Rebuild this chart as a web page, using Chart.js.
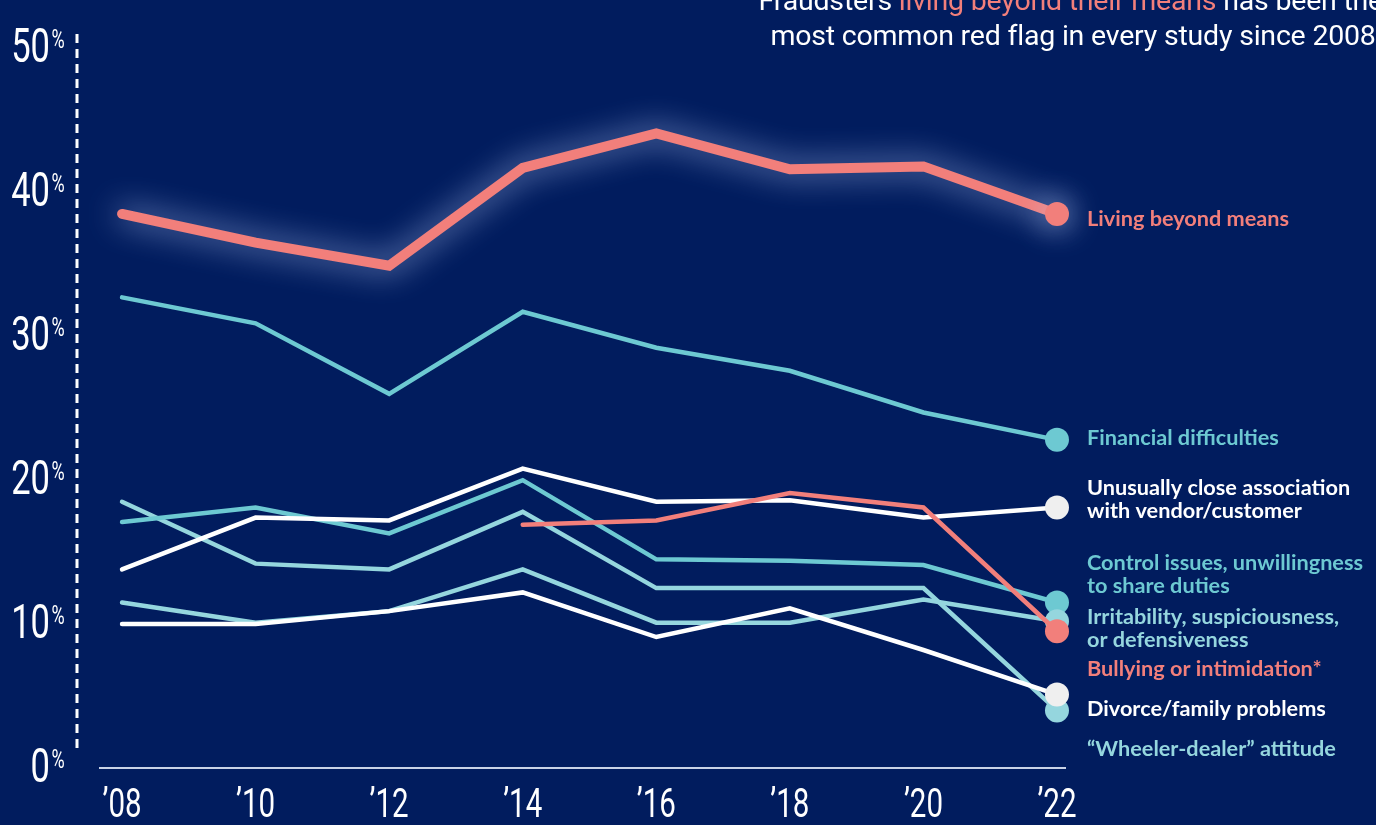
<!DOCTYPE html>
<html lang="en">
<head>
    <meta charset="UTF-8">
    <title>Red flags of fraud, 2008-2022</title>
    <script src="https://cdn.jsdelivr.net/npm/chart.js"></script>
    <style>
        html, body {
            margin: 0;
            padding: 0;
            background: #011c5e;
            overflow: hidden;
        }
        .wrap {
            position: relative;
            width: 1376px;
            height: 825px;
        }
        #headline {
            position: absolute;
            right: -7px;
            top: -17px;
            text-align: right;
            color: #fff;
            font-family: Roboto, "Noto Sans", sans-serif;
            font-size: 28.5px;
            line-height: 35px;
            letter-spacing: -0.2px;
            white-space: nowrap;
        }
        #headline .hl {
            color: #f27f7b;
        }
    </style>
</head>
<body>
    <div class="wrap">
        <canvas id="chart" width="1376" height="825"></canvas>
        <div id="headline">Fraudsters <span class="hl">living beyond their means</span> has been the<br>most common red flag in every study since 2008.</div>
    </div>

    <script>
        // data
        const years = [2008, 2010, 2012, 2014, 2016, 2018, 2020, 2022];
        const yearLabels = ["\u201908", "\u201910", "\u201912", "\u201914", "\u201916", "\u201918", "\u201920", "\u201922"];
        const yTicks = [0, 10, 20, 30, 40, 50];

        const livingBeyondMeans = [38.5, 36.5, 34.9, 41.7, 44.1, 41.6, 41.8, 38.5];
        const financialDifficulties = [32.7, 30.9, 26.0, 31.7, 29.2, 27.6, 24.7, 22.8];
        const closeAssociation = [13.8, 17.4, 17.2, 20.8, 18.5, 18.6, 17.4, 18.1];
        const controlIssues = [17.1, 18.1, 16.3, 20.0, 14.5, 14.4, 14.1, 11.5];
        const irritability = [11.5, 10.1, 10.9, 13.8, 10.1, 10.1, 11.7, 10.2];
        const bullying = [null, null, null, 16.9, 17.2, 19.1, 18.1, 9.5];
        const divorceFamily = [10.0, 10.0, 10.9, 12.2, 9.1, 11.1, 8.2, 5.1];
        const wheelerDealer = [18.5, 14.2, 13.8, 17.8, 12.5, 12.5, 12.5, 4.0];

        const SALMON = '#f27f7b';
        const TEAL = '#6dc9d2';
        const TEAL_LIGHT = '#95d6de';
        const WHITE = '#ffffff';

        // name lines, colour, shift of the label from the end dot, draw order
        const series = [
            { name: ['Living beyond means'], data: livingBeyondMeans, color: SALMON, dot: SALMON, width: 10, dy: 5, order: 0 },
            { name: ['Financial difficulties'], data: financialDifficulties, color: TEAL, dot: TEAL, width: 4.5, dy: -2, order: 7 },
            { name: ['Unusually close association', 'with vendor/customer'], data: closeAssociation, color: WHITE, dot: '#efefef', width: 4.5, dy: -8, order: 3 },
            { name: ['Control issues, unwillingness', 'to share duties'], data: controlIssues, color: TEAL, dot: TEAL, width: 4.5, dy: -28, order: 5 },
            { name: ['Irritability, suspiciousness,', 'or defensiveness'], data: irritability, color: TEAL_LIGHT, dot: TEAL_LIGHT, width: 4.5, dy: 7, order: 4 },
            { name: ['Bullying or intimidation*'], data: bullying, color: SALMON, dot: SALMON, width: 4.5, dy: 38, order: 1 },
            { name: ['Divorce/family problems'], data: divorceFamily, color: WHITE, dot: '#efefef', width: 4.5, dy: 14, order: 2 },
            { name: ['\u201cWheeler-dealer\u201d attitude'], data: wheelerDealer, color: TEAL_LIGHT, dot: TEAL_LIGHT, width: 4.5, dy: 39, order: 6 }
        ];

        const lastIdx = years.length - 1;

        // soft glow under the main line
        const glow = {
            id: 'glow',
            beforeDatasetDraw(chart, args) {
                if (args.index !== 0) return;
                const ctx = chart.ctx;
                ctx.save();
                ctx.shadowColor = 'rgba(190, 210, 255, 0.85)';
                ctx.shadowBlur = 32;
            },
            afterDatasetDraw(chart, args) {
                if (args.index !== 0) return;
                chart.ctx.restore();
            }
        };

        // dashed value axis, a bit left of the plot, stopping short of the baseline
        const dashedAxis = {
            id: 'dashedAxis',
            beforeDatasetsDraw(chart) {
                const ctx = chart.ctx;
                const ys = chart.scales.y;
                const x = chart.chartArea.left - 23;
                ctx.save();
                ctx.strokeStyle = '#ffffff';
                ctx.lineWidth = 3;
                ctx.setLineDash([9, 6]);
                ctx.beginPath();
                ctx.moveTo(x, ys.getPixelForValue(ys.max));
                ctx.lineTo(x, ys.getPixelForValue(1.2));
                ctx.stroke();
                ctx.restore();
            }
        };

        // axis labels with superscript % and labels at the end of each line
        const labels = {
            id: 'labels',
            afterDraw(chart) {
                const ctx = chart.ctx;
                const xs = chart.scales.x;
                const ys = chart.scales.y;
                ctx.save();
                ctx.fillStyle = '#fff';

                yTicks.forEach(v => {
                    const py = ys.getPixelForValue(v);
                    ctx.save();
                    ctx.translate(50, py + 2);
                    ctx.scale(0.72, 1);
                    ctx.font = '400 48px Roboto';
                    ctx.textAlign = 'right';
                    ctx.textBaseline = 'middle';
                    ctx.fillText(String(v), 0, 0);
                    ctx.font = '400 25px Roboto';
                    ctx.textAlign = 'left';
                    ctx.textBaseline = 'top';
                    ctx.fillText('%', 2, -21);
                    ctx.restore();
                });

                years.forEach((yr, i) => {
                    const px = xs.getPixelForValue(yr);
                    ctx.save();
                    ctx.translate(px, 807);
                    ctx.scale(0.72, 1);
                    ctx.font = '400 41px Roboto';
                    ctx.textAlign = 'center';
                    ctx.textBaseline = 'middle';
                    ctx.fillText(yearLabels[i], 0, 0);
                    ctx.restore();
                });

                ctx.font = 'bold 21.7px Lato, "Open Sans", sans-serif';
                ctx.textAlign = 'left';
                ctx.textBaseline = 'middle';
                const lineH = 23;
                series.forEach(s => {
                    const px = xs.getPixelForValue(years[lastIdx]) + 30;
                    const py = ys.getPixelForValue(s.data[lastIdx]) + s.dy;
                    ctx.fillStyle = s.color;
                    const top = py - (s.name.length - 1) * lineH / 2;
                    s.name.forEach((line, k) => ctx.fillText(line, px, top + k * lineH));
                });
                ctx.restore();
            }
        };

        const ctx = document.getElementById('chart').getContext('2d');
        new Chart(ctx, {
            type: 'line',
            data: {
                datasets: series.map(s => ({
                    label: s.name.join(' '),
                    data: years.map((yr, i) => ({ x: yr, y: s.data[i] })),
                    borderColor: s.color,
                    backgroundColor: s.dot,
                    borderWidth: s.width,
                    borderCapStyle: 'round',
                    borderJoinStyle: 'miter',
                    pointRadius: c => (c.dataIndex === lastIdx ? 12 : 0),
                    pointBorderWidth: 0,
                    pointBackgroundColor: s.dot,
                    spanGaps: false,
                    tension: 0,
                    clip: false,
                    order: s.order
                }))
            },
            options: {
                responsive: false,
                animation: false,
                devicePixelRatio: 1,
                layout: {
                    padding: { left: 100, right: 311, top: 34, bottom: 57 }
                },
                plugins: {
                    legend: { display: false },
                    tooltip: { enabled: false }
                },
                scales: {
                    x: {
                        type: 'linear',
                        min: 2007.67,
                        max: 2022.12,
                        grid: { display: false, drawTicks: false },
                        ticks: { display: false },
                        border: { display: true, color: '#c9d2e6', width: 2 }
                    },
                    y: {
                        min: 0,
                        max: 51,
                        grid: { display: false, drawTicks: false },
                        ticks: { display: false },
                        border: { display: false }
                    }
                }
            },
            plugins: [glow, dashedAxis, labels]
        });
    </script>
</body>
</html>
